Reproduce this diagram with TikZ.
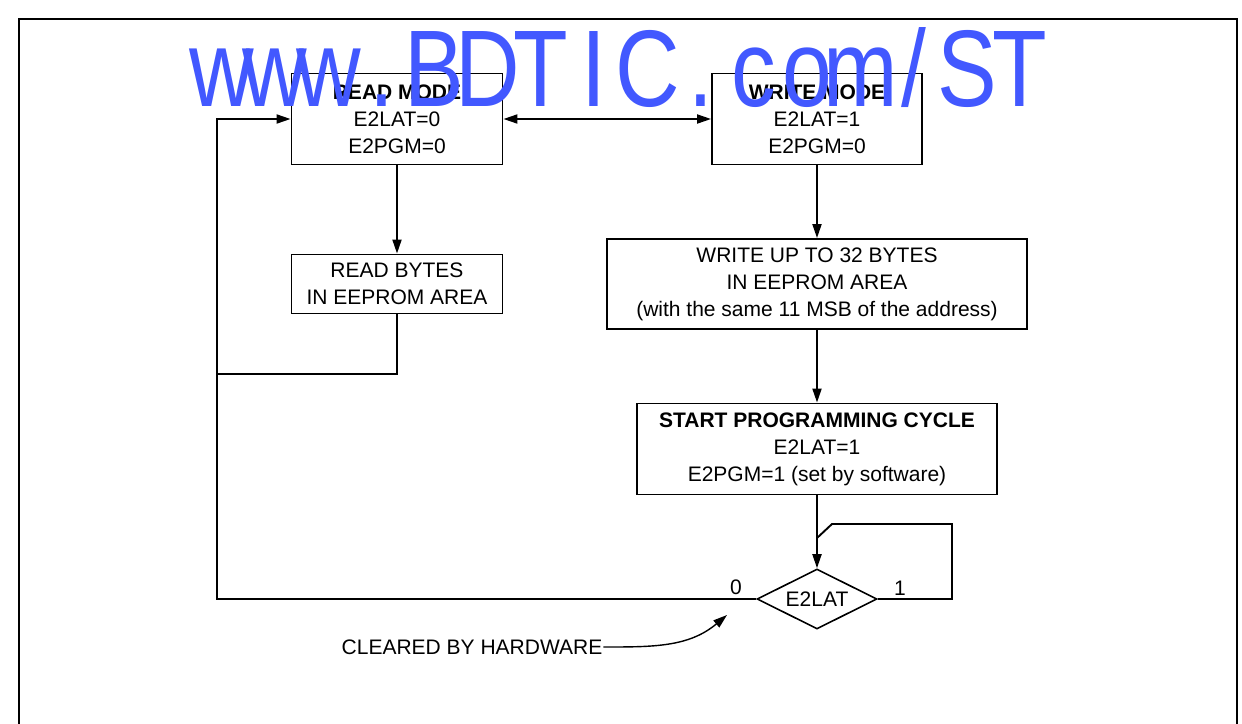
\documentclass[tikz,border=0pt]{standalone}
\usepackage{fontspec}
\setmainfont{Liberation Sans}
\usepackage{graphicx}
\usetikzlibrary{arrows.meta,positioning,shapes.geometric}
\definecolor{wmblue}{RGB}{66,88,255}

\begin{document}
\begin{tikzpicture}[x=1pt,y=1pt,>={Triangle[length=14pt,width=9pt]},line width=1.9pt,
  node distance=165pt,on grid,
  box/.style={draw,line width=1.9pt,align=center,inner sep=0pt,
    font=\fontsize{21}{27}\selectfont},
  test/.style={diamond,aspect=2,draw,line width=1.6pt,inner sep=0pt,minimum width=120pt,
    minimum height=60pt,font=\fontsize{21}{27}\selectfont},
  lbl/.style={inner sep=0pt,font=\fontsize{21}{27}\selectfont},
  wmark/.style={anchor=base,inner sep=0pt,text=wmblue,font=\fontsize{109}{109}\selectfont}]
  \useasboundingbox (0,0) rectangle (1242,-723);
  \draw[line width=2pt] (19,-724) |- (1237,-19) -- (1237,-724);
  \node[box,minimum width=211pt,minimum height=91pt] (readmode) at (397,-119)
    {\textbf{READ MODE}\\E2LAT=0\\E2PGM=0};
  \node[box,minimum width=210pt,minimum height=91pt] (writemode) [right=420pt of readmode]
    {\textbf{WRITE MODE}\\E2LAT=1\\E2PGM=0};
  \node[box,minimum width=211pt,minimum height=59pt] (readbytes) [below=of readmode]
    {READ BYTES\\IN EEPROM AREA};
  \node[box,minimum width=420pt,minimum height=90pt] (writebytes) [below=of writemode]
    {WRITE UP TO 32 BYTES\\IN EEPROM AREA\\(with the same 11 MSB of the address)};
  \node[box,minimum width=360pt,minimum height=91pt] (startprog) [below=of writebytes]
    {\textbf{START PROGRAMMING CYCLE}\\E2LAT=1\\E2PGM=1 (set by software)};
  \node[test] (e2lat) [below=150pt of startprog] {E2LAT};
  \node[lbl] (zero) at (736,-587) {0};
  \node[lbl] (one) at (900,-588) {1};
  \node[lbl] (cleared) at (472,-647) {CLEARED BY HARDWARE};
  \coordinate (hwtip) at (727,-615);
  \coordinate (loopL) at (217,-374);
  \coordinate (loopR) at (952,-524);
  \coordinate (loopJ) at (817,-538);
  \draw[<->] (readmode) -- (writemode);
  \draw[->] (readmode) -- (readbytes);
  \draw[->] (writemode) -- (writebytes);
  \draw[->] (writebytes) -- (startprog);
  \draw[->] (startprog) -- (e2lat);
  \draw[->] (e2lat.west) -| (loopL) |- (readmode.west);
  \draw (readbytes.south) |- (loopL);
  \draw (e2lat.east) -| (loopR) -- ++(-120,0) -- (loopJ);
  \draw[->,line width=1.4pt] (cleared.east) to[out=0,in=220] (hwtip);
  \foreach \ch [count=\i from 0] in {w,w,w,.,B,D,T,I,C,.,c,o,m,/,S,T}
    \node[wmark] (wm\i) at (222+53.2*\i,-106) {\scalebox{0.82}[1]{\ch}};
\end{tikzpicture}
\end{document}
